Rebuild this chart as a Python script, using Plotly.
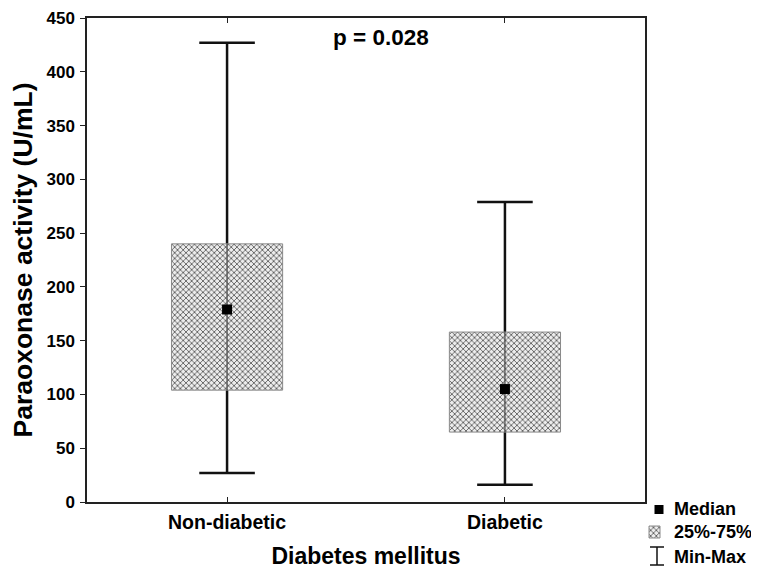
import plotly.graph_objects as go

# ---- data ----
categories = ["Non-diabetic", "Diabetic"]
minimum = [27, 16]
q1 = [104, 65]
median = [179, 105]
q3 = [240, 158]
maximum = [427, 279]
y_ticks = list(range(0, 451, 50))
p_text = "p = 0.028"
legend_labels = ["Median", "25%-75%", "Min-Max"]

FONT = "Liberation Sans, Arial, sans-serif"
BOX_HALF = 0.2
CAP_HALF = 0.1

pos = list(range(len(categories)))
fig = go.Figure()

# whiskers (full min-max, drawn under the box)
wx, wy = [], []
for i in pos:
    wx += [i, i, None]
    wy += [minimum[i], maximum[i], None]
fig.add_trace(go.Scatter(x=wx, y=wy, mode="lines",
                         line=dict(color="#111111", width=2.5),
                         hoverinfo="skip", showlegend=False))
# caps
cx, cy = [], []
for i in pos:
    for v in (minimum[i], maximum[i]):
        cx += [i - CAP_HALF, i + CAP_HALF, None]
        cy += [v, v, None]
fig.add_trace(go.Scatter(x=cx, y=cy, mode="lines",
                         line=dict(color="#111111", width=2.5),
                         hoverinfo="skip", showlegend=False))

pattern = dict(shape="x", size=4, solidity=0.4, fgcolor="#5e5e5e", bgcolor="#ededed")
# boxes (25%-75%)
for i in pos:
    fig.add_trace(go.Scatter(
        x=[i - BOX_HALF, i + BOX_HALF, i + BOX_HALF, i - BOX_HALF, i - BOX_HALF],
        y=[q1[i], q1[i], q3[i], q3[i], q1[i]],
        mode="lines", fill="toself", fillpattern=pattern, fillcolor="#ededed",
        line=dict(color="#8a8a8a", width=1), hoverinfo="skip", showlegend=False))

# thin line through box
tx, ty = [], []
for i in pos:
    tx += [i, i, None]
    ty += [q1[i], q3[i], None]
fig.add_trace(go.Scatter(x=tx, y=ty, mode="lines",
                         line=dict(color="#444444", width=1.2),
                         hoverinfo="skip", showlegend=False))

# medians
fig.add_trace(go.Scatter(x=pos, y=median, mode="markers",
                         marker=dict(symbol="square", size=10, color="#000000"),
                         hoverinfo="skip", showlegend=False))

# ---- custom legend (on a helper axis in page-pixel units) ----
fig.add_trace(go.Scatter(x=[659], y=[509.5], mode="markers", xaxis="x3", yaxis="y3",
                         marker=dict(symbol="square", size=9, color="#000000"),
                         hoverinfo="skip", showlegend=False))
fig.add_trace(go.Scatter(x=[649, 660, 660, 649, 649], y=[526, 526, 538, 538, 526],
                         mode="lines", fill="toself", fillpattern=pattern, fillcolor="#ededed",
                         xaxis="x3", yaxis="y3",
                         line=dict(color="#8a8a8a", width=1), hoverinfo="skip", showlegend=False))
fig.add_trace(go.Scatter(x=[657, 657, None, 650, 664, None, 650, 664],
                         y=[547, 565, None, 547, 547, None, 565, 565],
                         mode="lines", xaxis="x3", yaxis="y3",
                         line=dict(color="#111111", width=1.5), hoverinfo="skip", showlegend=False))
for lab, yy in zip(legend_labels, [509, 532, 557]):
    fig.add_annotation(x=672, y=yy, xref="x3", yref="y3", text=lab, showarrow=False,
                       xanchor="left", yanchor="middle",
                       font=dict(family=FONT, size=18, color="#000000", weight="bold"))

fig.add_annotation(x=0.554, y=432, xref="x", yref="y", text=p_text, showarrow=False,
                   xanchor="center", yanchor="middle",
                   font=dict(family=FONT, size=22.5, color="#000000", weight="bold"))

# page has an 8px body margin, so the figure is drawn 8px smaller and offset
OFF = 8
W, H = 759 - OFF, 569 - OFF
L, T = 87 - OFF, 18 - OFF
plot_w, plot_h = W - L, H - T
x_dom_end = (645 - OFF - L) / plot_w
y_dom_start = (H - (502 - OFF)) / plot_h

axis_common = dict(showgrid=False, zeroline=False, automargin=False,
                   linecolor="#222222", linewidth=1.5, tickcolor="#222222",
                   ticklabeloverflow="allow")

fig.update_layout(
    template="none",
    width=W, height=H,
    margin=dict(l=L, r=0, t=T, b=0, pad=0),
    paper_bgcolor="white", plot_bgcolor="white",
    showlegend=False,
    font=dict(family=FONT, color="#000000"),
    xaxis=dict(domain=[0, x_dom_end], range=[-0.504, 1.504],
               tickvals=pos, ticktext=categories,
               ticks="inside", ticklen=5, showline=True, mirror="ticks",
               tickfont=dict(family=FONT, size=19.5, color="#000000", weight="bold"),
               ticklabelstandoff=2,
               title=dict(text="Diabetes mellitus", standoff=18,
                          font=dict(family=FONT, size=23, color="#000000", weight="bold")),
               anchor="y", **axis_common),
    yaxis=dict(domain=[y_dom_start, 1], range=[0, 450], tickvals=y_ticks,
               ticks="outside", ticklen=5, showline=True, mirror=True,
               tickfont=dict(family=FONT, size=17, color="#000000", weight="bold"),
               ticklabelstandoff=2,
               title=dict(text="Paraoxonase activity (U/mL)", standoff=7,
                          font=dict(family=FONT, size=26.5, color="#000000", weight="bold")),
               anchor="x", **axis_common),
    yaxis2=dict(overlaying="y", side="right", anchor="x", range=[0, 450], tickvals=y_ticks,
                ticks="inside", ticklen=4, showticklabels=False, showline=False,
                showgrid=False, zeroline=False, tickcolor="#222222"),
    xaxis3=dict(domain=[x_dom_end, 1], range=[645, 759], visible=False, anchor="y3"),
    yaxis3=dict(domain=[0, y_dom_start], range=[569, 502], visible=False, anchor="x3"),
)

fig.write_html("out.html")
